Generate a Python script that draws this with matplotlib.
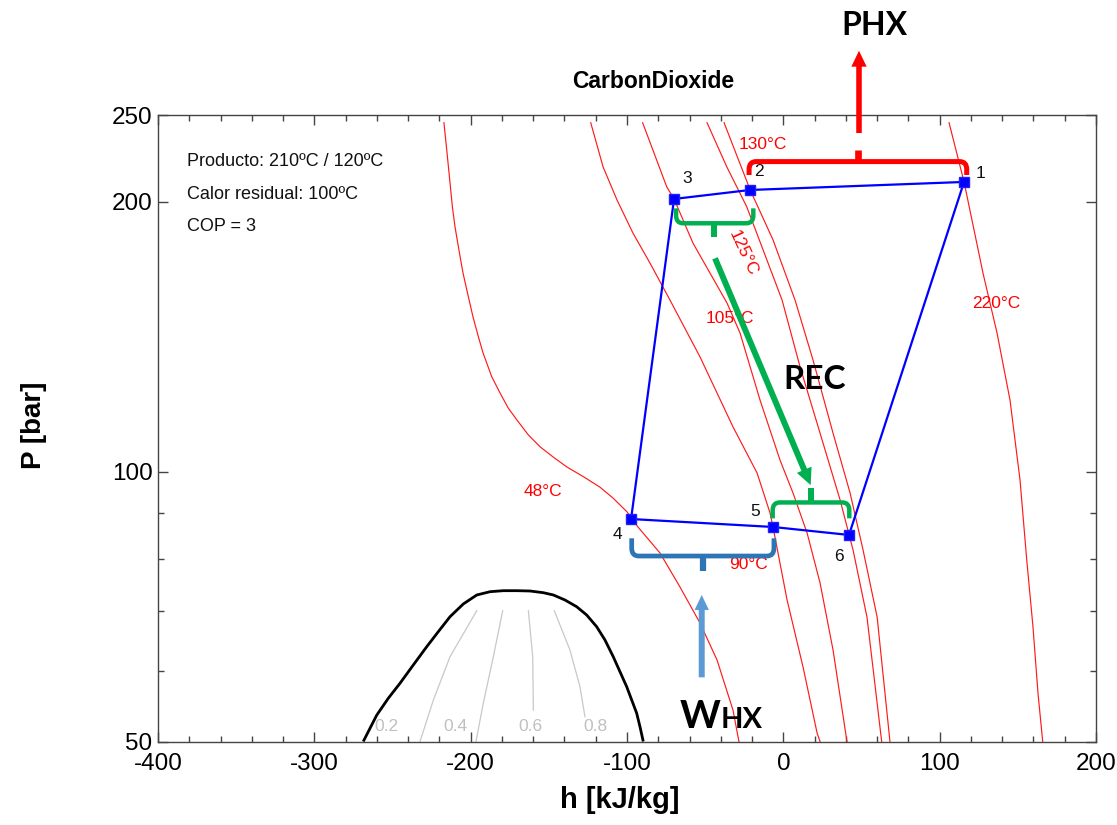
import matplotlib
matplotlib.use('Agg')
import matplotlib.pyplot as plt
from matplotlib.path import Path
from matplotlib.patches import PathPatch
from matplotlib.ticker import FixedLocator, NullFormatter, FuncFormatter, MultipleLocator

plt.rcParams['font.family'] = ['Liberation Sans', 'DejaVu Sans']
plt.rcParams['axes.unicode_minus'] = False

# ---------------- data ----------------
# cycle states 1..6  (h in kJ/kg, P in bar)
state_labels = ['1', '2', '3', '4', '5', '6']
cycle_h = [115.6, -21.3, -69.9, -97.4, -6.6, 42.0]
cycle_P = [210.5, 206.2, 201.5, 88.55, 86.76, 85.0]

# isotherms
iso_48_h = [-217.1, -215.3, -213.2, -211.7, -210.0, -207.5, -204.9, -201.5, -198.5, -195.1,
            -192.1, -186.5, -181.2, -175.9, -170.4, -163.1, -155.6, -147.1, -138.4, -127.9,
            -117.3, -108.8, -100.0, -93.0, -78.9, -66.1, -53.3, -42.4, -32.2, -28.4]
iso_48_P = [245.1, 228.5, 210.0, 197.5, 187.5, 176.7, 166.6, 156.8, 148.8, 141.5,
            135.7, 127.6, 122.4, 117.7, 114.2, 109.9, 106.6, 103.8, 101.2, 98.73,
            96.1, 93.4, 90.2, 86.76, 81.15, 74.36, 67.79, 61.64, 54.2, 50.0]
iso_90_h = [-123.2, -115.3, -106.4, -96.2, -85.3, -72.5, -53.3, -32.2, -16.8, -8.5, -6.6,
            2.4, 12.6, 21.6, 23.5]
iso_90_P = [245.1, 218.8, 201.0, 184.6, 170.9, 155.4, 134.3, 112.2, 99.67, 89.93, 86.76,
            71.92, 60.55, 51.1, 50.0]
iso_105_h = [-90.0, -74.6, -69.9, -57.8, -36.0, -27.7, -14.9, -2.1, 6.2, 15.2, 23.5, 31.8, 40.7]
iso_105_P = [245.1, 207.9, 201.5, 179.9, 154.2, 142.8, 120.2, 103.0, 94.67, 85.43, 75.13, 63.25, 50.0]
iso_125_h = [-48.8, -36.2, -23.4, -0.8, 10.7, 23.5, 36.3, 44.6, 53.5, 62.9]
iso_125_P = [245.1, 218.9, 197.5, 155.4, 130.9, 110.4, 93.0, 81.78, 68.84, 50.0]
iso_130_h = [-37.9, -21.2, -6.6, 7.5, 19.0, 31.8, 42.7, 51.0, 60.0, 68.2]
iso_130_P = [245.1, 206.2, 181.4, 155.4, 133.2, 110.4, 94.67, 81.78, 68.84, 50.0]
iso_220_h = [106.0, 115.6, 127.7, 136.7, 145.0, 151.4, 155.7, 159.7, 162.9, 165.9]
iso_220_P = [245.1, 210.5, 166.6, 142.8, 120.2, 97.9, 79.70, 67.10, 56.6, 50.0]

iso_labels = ['48°C', '90°C', '105°C', '125°C', '130°C', '220°C']
iso_label_h = [-153.6, -22.4, -34.1, -25.6, -12.9, 136.5]
iso_label_P = [95.0, 78.7, 148.3, 175.3, 231.5, 154.1]
iso_label_rot = [0, 0, 0, -65, 0, 0]

# saturation dome
dome_h = [-268.7, -260.1, -252.7, -245.2, -236.7, -228.1, -220.7, -213.2, -204.7, -196.1,
          -187.6, -179.1, -170.5, -162.0, -153.5, -147.1, -139.7, -132.2, -125.8, -119.4,
          -114.1, -108.8, -104.5, -100.2, -97.0, -93.8, -91.7, -89.6]
dome_P = [50.0, 53.5, 55.87, 58.07, 60.86, 63.79, 66.30, 68.90, 71.19, 72.85,
          73.47, 73.66, 73.66, 73.6, 73.28, 72.85, 71.92, 70.69, 69.2, 67.15,
          64.9, 62.17, 59.82, 57.56, 55.63, 53.76, 51.94, 50.0]

# quality lines
q_labels = ['0.2', '0.4', '0.6', '0.8']
q02_h = [-196.1, -213.2, -223.9, -232.4]
q02_P = [69.97, 62.17, 55.6, 50.0]
q04_h = [-179.5, -185.5, -191.9, -196.6]
q04_P = [69.97, 62.17, 55.2, 50.0]
q06_h = [-163.1, -160.3, -159.9]
q06_P = [69.97, 62.17, 54.2]
q08_h = [-146.5, -136.5, -130.1, -126.9]
q08_P = [69.97, 63.25, 57.56, 53.3]
q_label_h = [-253.7, -210.0, -162.0, -120.5]
q_label_P = [51.9, 51.9, 51.9, 51.9]

x_ticks = [-400, -300, -200, -100, 0, 100, 200]
y_ticks = [50, 100, 200, 250]
y_minor = [60, 70, 80, 90]

info_lines = ['Producto: 210ºC / 120ºC', 'Calor residual: 100ºC', 'COP = 3']
info_P = [221.8, 203.6, 187.7]

# ---------------- figure ----------------
fig = plt.figure(figsize=(11.17, 8.25), dpi=100)
ax = fig.add_axes([0.14145, 0.10121, 0.83975, 0.75939])
ax.set_yscale('log')
ax.set_xlim(-400, 200)
ax.set_ylim(50, 250)

iso_red = '#FF1A1A'
for hh, pp in [(iso_48_h, iso_48_P), (iso_90_h, iso_90_P), (iso_105_h, iso_105_P),
               (iso_125_h, iso_125_P), (iso_130_h, iso_130_P), (iso_220_h, iso_220_P)]:
    ax.plot(hh, pp, color=iso_red, lw=0.85, zorder=2)
for lab, hx, py, rot in zip(iso_labels, iso_label_h, iso_label_P, iso_label_rot):
    ax.text(hx, py, lab, color='#FF0000', fontsize=12.5, ha='center', va='center',
            rotation=rot, zorder=3)

ax.plot(dome_h, dome_P, color='black', lw=2.0, zorder=2, solid_capstyle='butt')
for hh, pp in [(q02_h, q02_P), (q04_h, q04_P), (q06_h, q06_P), (q08_h, q08_P)]:
    ax.plot(hh, pp, color='#C8C8C8', lw=0.9, zorder=1)
for lab, hx, py in zip(q_labels, q_label_h, q_label_P):
    ax.text(hx, py, lab, color='#C0C0C0', fontsize=12.5, ha='center', va='center')

# cycle
ax.plot(cycle_h + cycle_h[:1], cycle_P + cycle_P[:1], color='#0000FF', lw=1.6, zorder=4)
ax.plot(cycle_h, cycle_P, ls='none', marker='s', ms=7.5, color='#0000FF',
        markeredgecolor='#2020FF', zorder=5)
lab_off_h = [10.2, 5.5, 8.1, -8.8, -11.5, -6.2]
lab_off_f = [1.021, 1.048, 1.053, 0.960, 1.040, 0.947]
for lab, hx, py, dh, fp in zip(state_labels, cycle_h, cycle_P, lab_off_h, lab_off_f):
    ax.text(hx + dh, py * fp, lab, fontsize=12.5, ha='center', va='center', color='#111111')

for txt, py in zip(info_lines, info_P):
    ax.text(-381.6, py, txt, fontsize=13, ha='left', va='center', color='#111111')

# ---------------- axes styling ----------------
ax.xaxis.set_major_locator(FixedLocator(x_ticks))
ax.xaxis.set_minor_locator(MultipleLocator(20))
ax.yaxis.set_major_locator(FixedLocator(y_ticks))
ax.yaxis.set_major_formatter(FuncFormatter(lambda v, p: f'{v:g}'))
ax.xaxis.set_major_formatter(FuncFormatter(lambda v, p: f'{v:g}'))
ax.yaxis.set_minor_locator(FixedLocator(y_minor))
ax.yaxis.set_minor_formatter(NullFormatter())
ax.tick_params(which='both', direction='in', top=True, right=True, colors='#444444',
               labelcolor='black', labelsize=17.5, width=1)
ax.tick_params(which='major', length=7)
ax.tick_params(which='minor', length=4)
ax.tick_params(axis='x', pad=8)
ax.tick_params(axis='y', pad=4)
for s in ax.spines.values():
    s.set_color('#444444')
    s.set_linewidth(1.0)

ax.set_xlabel('h [kJ/kg]', fontsize=21, fontweight='bold')
ax.xaxis.set_label_coords(0.4925, -0.0934)
ax.xaxis.label.set_va('center')
ax.set_ylabel('P [bar]', fontsize=20, fontweight='bold')
ax.yaxis.set_label_coords(-0.1322, 0.5052)
ax.yaxis.label.set_va('center')

ax.text(0.528, 1.0527, 'CarbonDioxide', transform=ax.transAxes, fontsize=16.5,
        fontweight='bold', ha='center', va='center')

# ---------------- annotations ----------------
def bracket(xl, xr, xm, ybar, yend, ytick, color, lw, tlw):
    # rounded corners: small offsets in h and in log-P
    dx = 4.5
    f = 1.02 if yend > ybar else 1 / 1.02
    verts = [(xl, yend), (xl, ybar * f), (xl, ybar), (xl + dx, ybar),
             (xr - dx, ybar), (xr, ybar), (xr, ybar * f), (xr, yend)]
    codes = [Path.MOVETO, Path.LINETO, Path.CURVE3, Path.CURVE3,
             Path.LINETO, Path.CURVE3, Path.CURVE3, Path.LINETO]
    ax.add_patch(PathPatch(Path(verts, codes), fill=False, edgecolor=color, lw=lw,
                           capstyle='butt', joinstyle='round', zorder=6, clip_on=False))
    ax.plot([xm, xm], [ybar, ytick], color=color, lw=tlw, solid_capstyle='butt',
            zorder=6, clip_on=False)

def arrow(x0, y0, x1, y1, color, tw, hw, hl):
    ax.annotate('', xy=(x1, y1), xytext=(x0, y0), annotation_clip=False,
                arrowprops=dict(arrowstyle=f'simple,head_width={hw},head_length={hl},tail_width={tw}',
                                mutation_scale=1, color=color, lw=0, shrinkA=0, shrinkB=0),
                zorder=7)

# PHX
bracket(-21.9, 117.3, 47.6, 221.8, 214.3, 228.5, '#FF0000', 3.6, 4.8)
arrow(48.4, 238.7, 48.4, 294.9, '#FF0000', 4.0, 11.0, 11.5)
ax.text(58.0, 314.3, 'PHX', fontsize=23, fontweight='bold', family=['Lato', 'DejaVu Sans'],
        ha='center', va='center', color='black')

# REC
bracket(-68.6, -19.2, -44.1, 189.3, 196.7, 182.9, '#00B050', 3.2, 4.3)
bracket(-6.8, 42.2, 17.5, 92.4, 88.7, 95.8, '#00B050', 3.2, 4.3)
arrow(-43.7, 173.0, 17.5, 96.6, '#00B050', 4.3, 11.5, 12.0)
ax.text(20.1, 126.6, 'REC', fontsize=24, fontweight='bold', family=['Lato', 'DejaVu Sans'],
        ha='center', va='center', color='black')

# WHX
bracket(-97.0, -6.0, -51.6, 80.52, 84.27, 77.54, '#2E75B6', 3.4, 4.5)
arrow(-52.2, 58.96, -52.2, 72.85, '#5B9BD5', 4.3, 10.3, 10.8)
ax.text(-40.2, 51.8, 'W', fontsize=28, fontweight='bold', family=['Lato', 'DejaVu Sans'],
        ha='right', va='baseline', color='black')
ax.text(-40.2, 51.8, 'HX', fontsize=21, fontweight='bold', family=['Lato', 'DejaVu Sans'],
        ha='left', va='baseline', color='black')

fig.savefig('out.png', dpi=100)
